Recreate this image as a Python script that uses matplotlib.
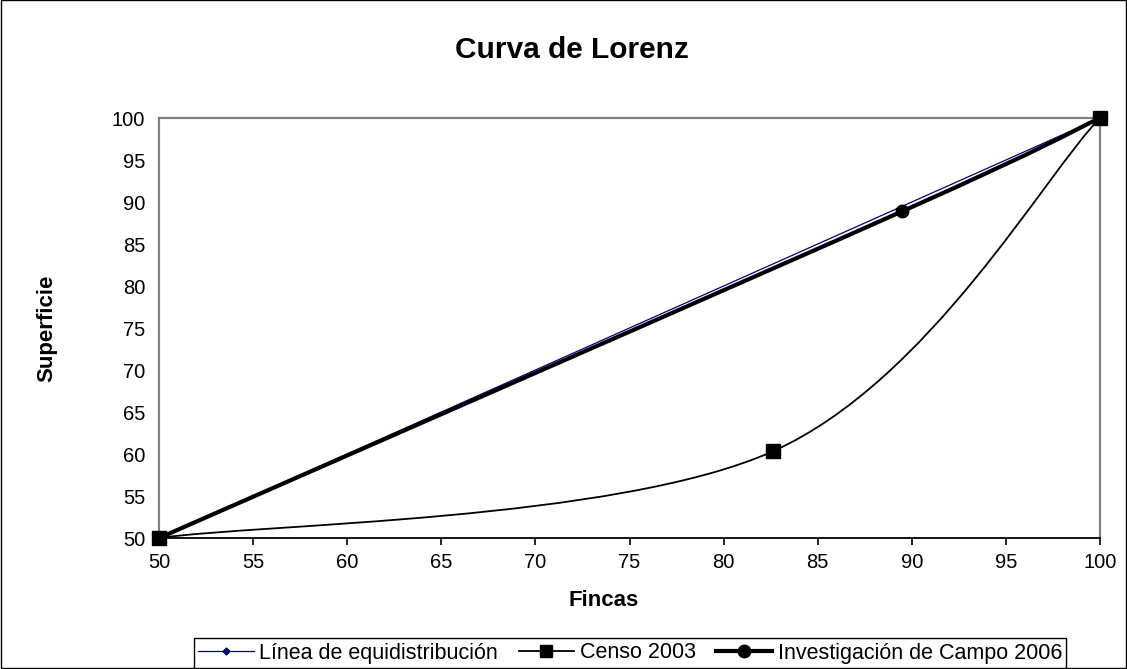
import matplotlib
matplotlib.use('Agg')
import matplotlib.pyplot as plt
from matplotlib.path import Path
from matplotlib.patches import PathPatch, Rectangle
from matplotlib.lines import Line2D
import numpy as np

plt.rcParams['font.family'] = ['Liberation Sans', 'DejaVu Sans']

title = "Curva de Lorenz"
x_label = "Fincas"
y_label = "Superficie"
series_names = ["Línea de equidistribución", "Censo 2003", "Investigación de Campo 2006"]

equi_x = [50, 100]
equi_y = [50, 100]
censo_x = [50, 82.6, 100]
censo_y = [50, 60.3, 100]
inv_x = [50, 89.5, 100]
inv_y = [50, 88.9, 100]

x_ticks = [50, 55, 60, 65, 70, 75, 80, 85, 90, 95, 100]
y_ticks = [50, 55, 60, 65, 70, 75, 80, 85, 90, 95, 100]


def smooth_path(xs, ys):
    pts = np.column_stack([xs, ys]).astype(float)
    n = len(pts)
    verts = [pts[0]]
    codes = [Path.MOVETO]
    for i in range(n - 1):
        p0 = pts[i - 1] if i > 0 else pts[i]
        p1 = pts[i]
        p2 = pts[i + 1]
        p3 = pts[i + 2] if i + 2 < n else pts[i + 1]
        c1 = p1 + (p2 - p0) / 6.0
        c2 = p2 - (p3 - p1) / 6.0
        verts += [c1, c2, p2]
        codes += [Path.CURVE4] * 3
    return Path(verts, codes)


W, H = 1127, 669
fig = plt.figure(figsize=(W / 100, H / 100), dpi=100)
ax = fig.add_axes([159 / W, 1 - 538 / H, (1100 - 159) / W, (538 - 118) / H])

ax.set_xlim(50, 100)
ax.set_ylim(50, 100)
ax.set_xticks(x_ticks)
ax.set_yticks(y_ticks)

for side in ['left', 'top', 'right']:
    ax.spines[side].set_color('#808080')
    ax.spines[side].set_linewidth(1.6)
ax.spines['bottom'].set_color('black')
ax.spines['bottom'].set_linewidth(1.3)

ax.tick_params(axis='x', direction='out', length=5, width=1.2, color='black',
               labelsize=14.5, pad=6)
ax.tick_params(axis='y', length=0, labelsize=14.5, pad=10)

# equidistribution line
ax.plot(equi_x, equi_y, color='#000080', lw=0.9, marker='D', markersize=3.5,
        zorder=3, clip_on=False)

# Censo 2003 (smoothed)
ax.add_patch(PathPatch(smooth_path(censo_x, censo_y), fill=False, edgecolor='black',
                       lw=1.3, zorder=4, clip_on=False))
ax.plot(censo_x, censo_y, linestyle='none', marker='s', markersize=9.5,
        color='black', zorder=5, clip_on=False)

# Investigación de Campo 2006 (smoothed)
ax.add_patch(PathPatch(smooth_path(inv_x, inv_y), fill=False, edgecolor='black',
                       lw=3.0, zorder=6, clip_on=False))
ax.plot(inv_x, inv_y, linestyle='none', marker='o', markersize=9,
        color='black', zorder=7, clip_on=False)

fig.text(572 / W, 1 - 50 / H, title, ha='center', va='center',
         fontsize=21.5, fontweight='bold')
fig.text(604 / W, 1 - 600 / H, x_label, ha='center', va='center',
         fontsize=16, fontweight='bold')
fig.text(47 / W, 1 - 328 / H, y_label, ha='center', va='center', rotation=90,
         fontsize=16, fontweight='bold')

handles = [
    Line2D([], [], color='#000080', lw=0.9, marker='D', markersize=3.5),
    Line2D([], [], color='black', lw=1.3, marker='s', markersize=9),
    Line2D([], [], color='black', lw=3.0, marker='o', markersize=9),
]
leg = fig.legend(handles, series_names, loc='center', bbox_to_anchor=(630 / W, 1 - 653 / H),
                 ncol=3, frameon=True, fancybox=False, edgecolor='black', framealpha=1,
                 fontsize=15.5, borderpad=0.2, handlelength=2.6, handletextpad=0.25,
                 columnspacing=0.95, borderaxespad=0)
leg.get_frame().set_linewidth(1.0)

fig.patches.append(Rectangle((0.0005, 0.0008), 0.999, 0.9985, transform=fig.transFigure,
                             fill=False, edgecolor='black', lw=1.0))

fig.savefig('out.png', dpi=100)
